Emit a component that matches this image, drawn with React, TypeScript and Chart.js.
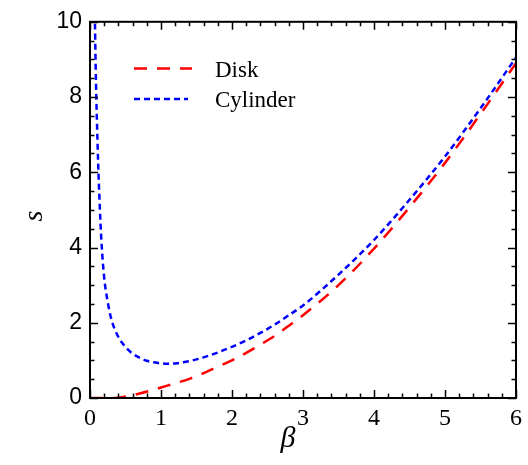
import React, { useEffect, useRef } from 'react';
import { Chart, registerables } from 'chart.js';

Chart.register(...registerables);

// ---- Data ----
const seriesNames = ['Disk', 'Cylinder'];

const diskBeta = [0, 0.2, 0.35, 0.5, 0.7, 0.9, 1.0, 1.2, 1.4, 1.6, 1.8, 2.0, 2.2, 2.4, 2.6, 2.8, 3.0, 3.5, 4.0, 4.5, 5.0, 5.5, 6.0];
const diskS = [0, 0, 0, 0.04, 0.12, 0.22, 0.28, 0.39, 0.51, 0.66, 0.83, 1.0, 1.2, 1.42, 1.65, 1.92, 2.2, 3.0, 3.97, 5.07, 6.25, 7.55, 8.9];

const cylinderBeta = [0.07, 0.08, 0.09, 0.1, 0.12, 0.14, 0.16, 0.2, 0.25, 0.3, 0.4, 0.5, 0.6, 0.7, 0.8, 0.9, 1.0, 1.1, 1.2, 1.4, 1.6, 1.8, 2.0, 2.2, 2.4, 2.6, 2.8, 3.0, 3.5, 4.0, 4.5, 5.0, 5.5, 6.0];
const cylinderS = [9.95, 8.8, 7.9, 7.2, 5.95, 5.0, 4.2, 3.2, 2.55, 2.1, 1.62, 1.36, 1.18, 1.07, 0.99, 0.95, 0.92, 0.91, 0.92, 0.98, 1.08, 1.21, 1.36, 1.53, 1.73, 1.95, 2.2, 2.46, 3.28, 4.2, 5.27, 6.42, 7.7, 9.05];

const xMin = 0;
const xMax = 6;
const xStep = 1;
const xMinorStep = 0.2;
const yMin = 0;
const yMax = 10;
const yStep = 2;
const yMinorStep = 0.5;

const xTitle = 'β';
const yTitle = 's';

const SERIF = "'Liberation Serif', 'Times New Roman', 'DejaVu Serif', serif";
const SANS = "'Liberation Sans', Arial, 'DejaVu Sans', sans-serif";

const framePlugin = {
  id: 'framePlugin',
  afterDraw(chart: any) {
    const { ctx, chartArea: a, scales } = chart;
    const xs = scales.x;
    const ys = scales.y;
    ctx.save();
    ctx.strokeStyle = '#000';
    ctx.lineCap = 'butt';
    ctx.setLineDash([]);

    // Inward tick marks on all four sides
    ctx.lineWidth = 1.5;
    const nx = Math.round((xMax - xMin) / xMinorStep);
    for (let i = 0; i <= nx; i++) {
      const v = xMin + i * xMinorStep;
      const px = Math.round(xs.getPixelForValue(v)) + 0.5;
      const major = Math.abs(v / xStep - Math.round(v / xStep)) < 1e-6;
      const len = major ? 8 : 4.5;
      ctx.beginPath();
      ctx.moveTo(px, a.bottom);
      ctx.lineTo(px, a.bottom - len);
      ctx.moveTo(px, a.top);
      ctx.lineTo(px, a.top + len);
      ctx.stroke();
    }
    const ny = Math.round((yMax - yMin) / yMinorStep);
    for (let i = 0; i <= ny; i++) {
      const v = yMin + i * yMinorStep;
      const py = Math.round(ys.getPixelForValue(v)) + 0.5;
      const major = Math.abs(v / yStep - Math.round(v / yStep)) < 1e-6;
      const len = major ? 8 : 4.5;
      ctx.beginPath();
      ctx.moveTo(a.left, py);
      ctx.lineTo(a.left + len, py);
      ctx.moveTo(a.right, py);
      ctx.lineTo(a.right - len, py);
      ctx.stroke();
    }

    // Frame
    ctx.lineWidth = 2;
    ctx.strokeRect(a.left, a.top, a.right - a.left, a.bottom - a.top);

    // Legend
    const legendX0 = 134;
    const legendLens = [58, 54];
    const legendYs = [68.5, 99];
    const textYs = [77, 107];
    chart.data.datasets.forEach((ds: any, i: number) => {
      ctx.save();
      ctx.strokeStyle = ds.borderColor;
      ctx.lineWidth = ds.borderWidth;
      ctx.setLineDash(ds.borderDash);
      ctx.beginPath();
      ctx.moveTo(legendX0, legendYs[i]);
      ctx.lineTo(legendX0 + legendLens[i], legendYs[i]);
      ctx.stroke();
      ctx.restore();
      ctx.fillStyle = '#000';
      ctx.font = `23px ${SERIF}`;
      ctx.textAlign = 'left';
      ctx.textBaseline = 'alphabetic';
      ctx.fillText(ds.label, 215, textYs[i]);
    });

    // Axis titles
    ctx.fillStyle = '#000';
    ctx.font = `italic 30px ${SERIF}`;
    ctx.textAlign = 'center';
    ctx.textBaseline = 'alphabetic';
    ctx.fillText(xTitle, 288, 447);

    ctx.save();
    ctx.translate(42, 216);
    ctx.rotate(-Math.PI / 2);
    ctx.font = `italic 28px ${SERIF}`;
    ctx.textAlign = 'center';
    ctx.fillText(yTitle, 0, 0);
    ctx.restore();

    ctx.restore();
  },
};

export default function App() {
  const canvasRef = useRef<HTMLCanvasElement | null>(null);

  useEffect(() => {
    document.body.style.margin = '0';
    const canvas = canvasRef.current;
    if (!canvas) return;
    const chart = new Chart(canvas, {
      type: 'line',
      data: {
        datasets: [
          {
            label: seriesNames[0],
            data: diskBeta.map((b, i) => ({ x: b, y: diskS[i] })),
            borderColor: '#ff0000',
            borderWidth: 2.5,
            borderDash: [13, 10],
            pointRadius: 0,
            fill: false,
            cubicInterpolationMode: 'monotone',
          },
          {
            label: seriesNames[1],
            data: cylinderBeta.map((b, i) => ({ x: b, y: cylinderS[i] })),
            borderColor: '#0000ff',
            borderWidth: 2.5,
            borderDash: [6, 4],
            pointRadius: 0,
            fill: false,
            cubicInterpolationMode: 'monotone',
          },
        ],
      },
      options: {
        responsive: false,
        animation: false,
        devicePixelRatio: 1,
        layout: { padding: { top: 20, right: 9, left: 0, bottom: 0 } },
        plugins: {
          legend: { display: false },
          tooltip: { enabled: false },
        },
        scales: {
          x: {
            type: 'linear',
            min: xMin,
            max: xMax,
            grid: { display: false, drawTicks: false },
            border: { display: false },
            ticks: {
              stepSize: xStep,
              color: '#000',
              padding: 6,
              font: { family: SERIF, size: 24 },
            },
            afterFit: (s: any) => {
              s.height = 67;
            },
          },
          y: {
            type: 'linear',
            min: yMin,
            max: yMax,
            grid: { display: false, drawTicks: false },
            border: { display: false },
            ticks: {
              stepSize: yStep,
              color: '#000',
              padding: 8,
              font: { family: SANS, size: 23 },
            },
            afterFit: (s: any) => {
              s.width = 90;
            },
          },
        },
      },
      plugins: [framePlugin],
    } as any);
    return () => chart.destroy();
  }, []);

  return (
    <div style={{ position: 'fixed', left: 0, top: 0, width: 528, height: 465, background: '#fff' }}>
      <canvas ref={canvasRef} width={528} height={465} />
    </div>
  );
}
